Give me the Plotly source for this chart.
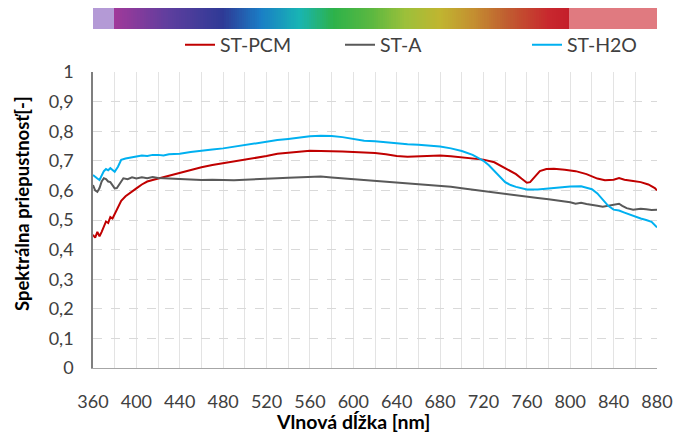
import plotly.graph_objects as go

# ---------------- data ----------------
pcm_nm = [360, 362, 364, 366, 368, 370, 372, 374, 376, 378, 380, 383, 386, 390, 395, 400, 405, 410, 415, 420,
          430, 440, 450, 460, 470, 480, 490, 500, 510, 520, 530, 540, 550, 560, 570, 580, 590, 600, 610, 620,
          630, 640, 650, 660, 670, 680, 690, 700, 710, 720, 730, 740, 750, 755, 760, 763, 767, 772, 778, 785,
          795, 805, 815, 825, 832, 840, 845, 850, 858, 865, 872, 878, 880]
pcm_val = [0.45, 0.44, 0.46, 0.445, 0.46, 0.48, 0.495, 0.49, 0.51, 0.505, 0.52, 0.54, 0.565, 0.58, 0.595, 0.607,
           0.62, 0.63, 0.635, 0.64, 0.65, 0.658, 0.668, 0.678, 0.686, 0.692, 0.698, 0.703, 0.71, 0.716, 0.724,
           0.728, 0.731, 0.734, 0.733, 0.733, 0.731, 0.73, 0.729, 0.726, 0.722, 0.716, 0.714, 0.716, 0.716, 0.718,
           0.715, 0.712, 0.708, 0.704, 0.695, 0.675, 0.655, 0.64, 0.626, 0.628, 0.645, 0.665, 0.672, 0.673,
           0.67, 0.665, 0.655, 0.64, 0.634, 0.636, 0.642, 0.636, 0.632, 0.628, 0.62, 0.608, 0.60]

a_nm = [360, 362, 364, 366, 368, 370, 372, 374, 376, 378, 380, 382, 385, 388, 392, 396, 400, 405, 410, 415, 420,
        430, 440, 450, 460, 470, 480, 490, 500, 510, 520, 530, 540, 550, 560, 570, 580, 590, 600, 610, 620, 630,
        640, 650, 660, 670, 680, 690, 700, 710, 720, 730, 740, 750, 760, 770, 780, 790, 800, 805, 810, 815, 820,
        825, 830, 835, 840, 845, 848, 852, 858, 865, 870, 875, 880]
a_val = [0.618, 0.6, 0.595, 0.608, 0.63, 0.641, 0.638, 0.63, 0.628, 0.615, 0.607, 0.608, 0.625, 0.641, 0.638,
         0.644, 0.64, 0.644, 0.641, 0.645, 0.642, 0.64, 0.638, 0.636, 0.635, 0.636, 0.635, 0.634, 0.636, 0.637,
         0.639, 0.641, 0.643, 0.645, 0.647, 0.647, 0.644, 0.641, 0.638, 0.636, 0.634, 0.631, 0.628, 0.625, 0.622,
         0.619, 0.616, 0.612, 0.607, 0.602, 0.597, 0.592, 0.587, 0.582, 0.578, 0.574, 0.57, 0.566, 0.56, 0.555,
         0.558, 0.554, 0.552, 0.548, 0.545, 0.548, 0.55, 0.555, 0.548, 0.54, 0.535, 0.538, 0.536, 0.534, 0.535]

h2o_nm = [360, 362, 364, 366, 368, 370, 372, 374, 376, 378, 380, 383, 386, 390, 395, 400, 405, 410, 415, 420, 425,
          430, 440, 450, 460, 470, 480, 490, 500, 510, 520, 530, 540, 550, 560, 570, 580, 590, 600, 610, 620, 630,
          640, 650, 660, 670, 680, 690, 700, 710, 715, 720, 725, 730, 735, 740, 745, 750, 760, 770, 780, 790, 800,
          810, 815, 820, 825, 830, 835, 840, 845, 850, 855, 860, 865, 870, 875, 880]
h2o_val = [0.652, 0.645, 0.64, 0.635, 0.65, 0.665, 0.672, 0.668, 0.675, 0.668, 0.663, 0.68, 0.703, 0.708, 0.712,
           0.714, 0.718, 0.716, 0.72, 0.72, 0.718, 0.722, 0.724, 0.73, 0.735, 0.738, 0.742, 0.748, 0.752, 0.758,
           0.764, 0.77, 0.774, 0.779, 0.783, 0.785, 0.784, 0.78, 0.774, 0.768, 0.766, 0.762, 0.758, 0.756, 0.754,
           0.751, 0.748, 0.742, 0.733, 0.72, 0.71, 0.7, 0.685, 0.665, 0.648, 0.628, 0.618, 0.612, 0.603, 0.603,
           0.606, 0.61, 0.613, 0.614, 0.61, 0.604, 0.59, 0.57, 0.548, 0.535, 0.532, 0.525, 0.518, 0.512, 0.505,
           0.5, 0.494, 0.475]

series_names = ["ST-PCM", "ST-A", "ST-H2O"]
series_colors = ["#C00000", "#595959", "#00B0F0"]

x_ticks = list(range(360, 881, 40))
y_ticks = [0, 0.1, 0.2, 0.3, 0.4, 0.5, 0.6, 0.7, 0.8, 0.9, 1]

# spectrum strip (wavelength -> colour)
strip_nm = list(range(360, 881, 2))
spec_stops_nm = [360, 379.9, 380, 430, 480, 515, 550, 582, 618, 648, 680, 710, 740, 780, 799.9, 800, 880]
spec_stops_col = ["#B49AD6", "#B49AD6", "#A0399A", "#5E3E9E", "#2E3A96", "#1A7EC6", "#18B4B4", "#2DB24A",
                  "#5DB840", "#9CC03A", "#C0B530", "#C49030", "#C06030", "#C8282E", "#C41E2A", "#E07A80",
                  "#E07A80"]

FONT = "Lato"
fig = go.Figure()

colorscale = [[(n - 360) / 520, c] for n, c in zip(spec_stops_nm, spec_stops_col)]
fig.add_trace(go.Heatmap(x=strip_nm, y=[0], z=[strip_nm], zmin=360, zmax=880, colorscale=colorscale,
                         showscale=False, hoverinfo="skip", yaxis="y2", showlegend=False))

legends = ["legend", "legend2", "legend3"]
for nm, val, name, col, lg in zip([pcm_nm, a_nm, h2o_nm], [pcm_val, a_val, h2o_val], series_names,
                                  series_colors, legends):
    fig.add_trace(go.Scatter(x=nm, y=val, mode="lines", name=name, line=dict(color=col, width=2),
                             legend=lg, showlegend=True))

W, H = 674, 437
L, R, T, B = 93, 17, 8, 69
pw, ph = W - L - R, H - T - B


def px_x(p):
    return (p - L) / pw


def px_y(p):
    return (H - B - p) / ph


leg_common = dict(orientation="h", yanchor="middle", xanchor="left", bgcolor="rgba(0,0,0,0)",
                  font=dict(family=FONT, size=19.5, color="#404040"))
fig.update_layout(
    width=W, height=H,
    margin=dict(l=L, r=R, t=T, b=B, autoexpand=False),
    paper_bgcolor="white", plot_bgcolor="white",
    separators=", ",
    showlegend=True,
    font=dict(family=FONT, size=18, color="#404040"),
    legend=dict(x=px_x(180), y=px_y(45), **leg_common),
    legend2=dict(x=px_x(340), y=px_y(45), **leg_common),
    legend3=dict(x=px_x(527), y=px_y(45), **leg_common),
    xaxis=dict(range=[360, 880], tickvals=x_ticks, showgrid=True, gridcolor="#E3E3E3", gridwidth=1,
               minor=dict(dtick=20, tick0=360, showgrid=True, gridcolor="#E3E3E3", gridwidth=1),
               showline=True, linecolor="#A6A6A6", linewidth=1, ticks="", zeroline=False, automargin=False,
               ticklabelstandoff=17, tickfont=dict(family=FONT, size=18, color="#404040")),
    yaxis=dict(domain=[0, (H - B - 72) / ph], range=[0, 1], tickvals=y_ticks, showgrid=True,
               gridcolor="#D9D9D9", griddash="dash", gridwidth=1, showline=True, linecolor="#7F7F7F",
               linewidth=1.5, ticks="", zeroline=False, ticklabelstandoff=14, automargin=False,
               tickfont=dict(family=FONT, size=18, color="#404040")),
    yaxis2=dict(domain=[(H - B - 29.3) / ph, 1.0], range=[-0.5, 0.5], visible=False, fixedrange=True),
    annotations=[
        dict(text="<b>Spektrálna priepustnosť[-]</b>", xref="paper", yref="paper", x=px_x(22), y=px_y(204),
             textangle=-90, showarrow=False, font=dict(family=FONT, size=18.5, color="#000000"),
             xanchor="center", yanchor="middle"),
        dict(text="<b>Vlnová dĺžka [nm]</b>", xref="paper", yref="paper", x=px_x(353), y=px_y(422),
             showarrow=False, font=dict(family=FONT, size=19.5, color="#000000"),
             xanchor="center", yanchor="middle"),
    ],
)

fig.write_html("out.html")
